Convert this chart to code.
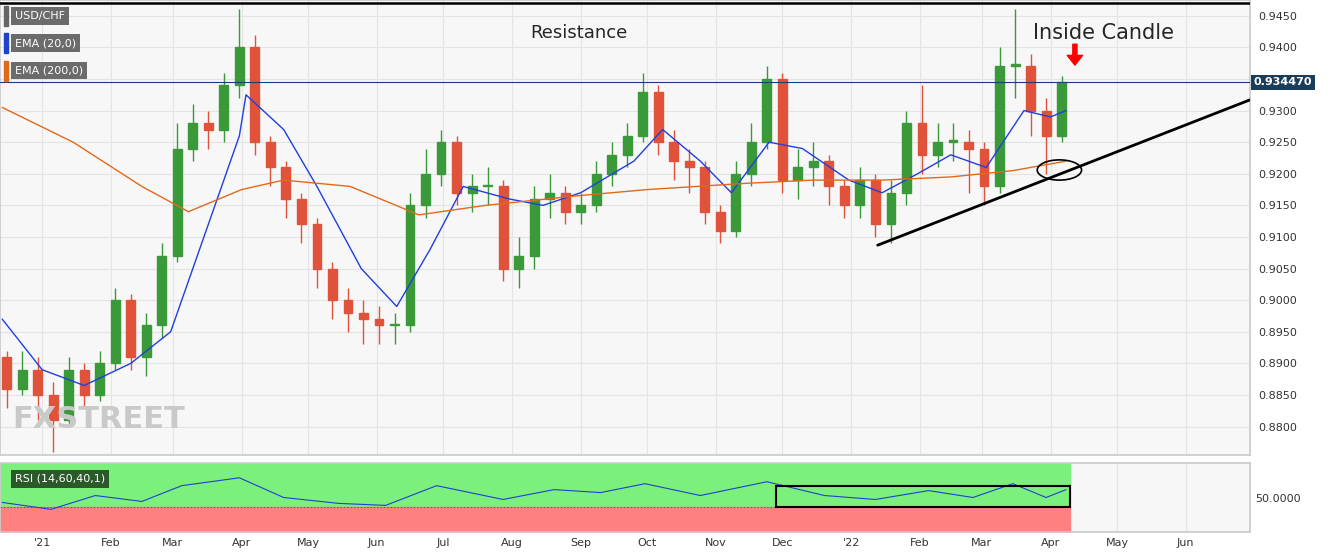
import numpy as np, pandas as pd, seaborn as sns, matplotlib
matplotlib.use("Agg")
import matplotlib.pyplot as plt
import matplotlib.dates as mdates
from matplotlib.patches import Ellipse, Rectangle

sns.set_theme(style="white")
plt.rcParams['font.family'] = ['DejaVu Sans']

# weekly candles (week start dates)
week_start = pd.date_range("2020-12-14", periods=69, freq="7D")
first_open = 0.891
closes = [0.886,0.889,0.885,0.881,0.889,0.885,0.890,0.900,0.891,0.896,0.907,0.924,0.928,0.927,0.934,0.940,
          0.925,0.921,0.916,0.912,0.905,0.900,0.898,0.897,0.896,0.896,0.915,0.920,0.925,0.917,0.918,0.918,
          0.905,0.907,0.916,0.917,0.914,0.915,0.920,0.923,0.926,0.933,0.925,0.922,0.921,0.914,0.911,0.920,
          0.925,0.935,0.919,0.921,0.922,0.918,0.915,0.919,0.912,0.917,0.928,0.923,0.925,0.925,0.924,0.918,
          0.937,0.937,0.930,0.926,0.9345]
highs = [0.892,0.892,0.891,0.887,0.891,0.890,0.892,0.902,0.901,0.898,0.909,0.928,0.931,0.930,0.936,0.946,
         0.942,0.926,0.922,0.917,0.913,0.906,0.902,0.900,0.899,0.898,0.917,0.924,0.927,0.926,0.920,0.921,
         0.919,0.910,0.918,0.920,0.918,0.917,0.922,0.925,0.928,0.936,0.934,0.927,0.924,0.922,0.915,0.922,
         0.928,0.937,0.936,0.924,0.925,0.923,0.919,0.921,0.920,0.919,0.930,0.934,0.928,0.928,0.927,0.925,
         0.940,0.946,0.939,0.932,0.9355]
lows = [0.883,0.885,0.881,0.876,0.880,0.883,0.884,0.889,0.889,0.888,0.894,0.906,0.922,0.924,0.925,0.932,
        0.923,0.918,0.913,0.909,0.902,0.897,0.895,0.893,0.893,0.893,0.895,0.913,0.918,0.915,0.914,0.915,
        0.903,0.902,0.905,0.913,0.912,0.912,0.914,0.918,0.921,0.925,0.923,0.919,0.917,0.912,0.909,0.910,
        0.918,0.924,0.917,0.916,0.918,0.915,0.913,0.913,0.910,0.909,0.915,0.920,0.921,0.922,0.917,0.915,
        0.917,0.932,0.926,0.920,0.925]

ema20_dates = pd.to_datetime(["2020-12-14","2021-01-01","2021-01-20","2021-02-10","2021-02-28","2021-03-15",
    "2021-03-31","2021-04-03","2021-04-20","2021-05-05","2021-05-25","2021-06-10","2021-06-25","2021-07-10",
    "2021-07-31","2021-08-15","2021-09-01","2021-09-25","2021-10-08","2021-10-25","2021-11-08","2021-11-25",
    "2021-12-10","2021-12-31","2022-01-15","2022-01-31","2022-02-15","2022-03-03","2022-03-20","2022-04-01","2022-04-08"])
ema20_vals = [0.897,0.889,0.8865,0.890,0.895,0.910,0.926,0.9325,0.927,0.918,0.905,0.899,0.908,0.918,
              0.916,0.915,0.917,0.922,0.927,0.922,0.917,0.925,0.924,0.919,0.917,0.920,0.923,0.921,0.930,0.929,0.930]
ema200_dates = pd.to_datetime(["2020-12-14","2021-01-15","2021-02-15","2021-03-08","2021-04-01","2021-04-20",
    "2021-05-20","2021-06-20","2021-07-20","2021-08-30","2021-10-01","2021-11-15","2021-12-15","2022-01-15",
    "2022-02-15","2022-03-15","2022-04-08"])
ema200_vals = [0.9305,0.925,0.918,0.914,0.9175,0.919,0.918,0.9135,0.915,0.9165,0.9175,0.9185,0.919,0.919,0.9195,0.9205,0.922]
rsi_dates = pd.to_datetime(["2020-12-14","2021-01-05","2021-01-25","2021-02-15","2021-03-05","2021-03-31",
    "2021-04-20","2021-05-15","2021-06-05","2021-06-28","2021-07-28","2021-08-20","2021-09-10","2021-09-30",
    "2021-10-25","2021-11-24","2021-12-20","2022-01-12","2022-02-05","2022-02-25","2022-03-15","2022-03-30","2022-04-08"])
rsi_vals = [45,38,52,46,62,70,50,44,42,62,48,58,55,64,52,66,52,48,57,50,64,50,58]
last_price = 0.93447
resistance = 0.9471
trend_dates = pd.to_datetime(["2022-01-13","2022-06-30"])
trend_vals = [0.9087,0.9317]

fig = plt.figure(figsize=(13.31, 5.58), dpi=100)
fig.patch.set_facecolor("white")
ax = fig.add_axes([0.0, 1-455/558, 1250/1331, 455/558])
ax2 = fig.add_axes([0.0, 1-532/558, 1250/1331, 69/558], sharex=ax)
for a in (ax, ax2):
    a.set_facecolor("#f7f7f7")
    for s in a.spines.values():
        s.set_color("#cccccc")

xmin, xmax = pd.Timestamp("2020-12-13"), pd.Timestamp("2022-06-30")
months = pd.date_range("2021-01-01", "2022-06-01", freq="MS")
for m in months:
    ax.axvline(m, color="#e4e4e4", lw=0.8, zorder=0)
    ax2.axvline(m, color="#e4e4e4", lw=0.8, zorder=0)
for p in np.arange(0.880, 0.9451, 0.005):
    ax.axhline(p, color="#e4e4e4", lw=0.8, zorder=0)

opens = [first_open] + closes[:-1]
centers = week_start + pd.Timedelta(days=2)
w = 4.0
for c, o, cl, h, l in zip(centers, opens, closes, highs, lows):
    col = "#3a9a3a" if cl >= o else "#e0533a"
    cn = mdates.date2num(c)
    ax.vlines(cn, l, h, color=col, lw=1, zorder=2)
    ax.add_patch(Rectangle((cn - w/2, min(o, cl)), w, max(abs(cl-o), 0.0003), color=col, zorder=3))

sns.lineplot(x=ema20_dates, y=ema20_vals, ax=ax, color="#1f3fe0", lw=1, zorder=4)
sns.lineplot(x=ema200_dates, y=ema200_vals, ax=ax, color="#e06a1a", lw=1, zorder=4)
ax.axhline(last_price, color="#1a3d7a", lw=0.8, zorder=4)
ax.axhline(resistance, color="black", lw=1.8, zorder=5)
sns.lineplot(x=trend_dates, y=trend_vals, ax=ax, color="black", lw=2, zorder=5)
ax.add_patch(Ellipse((mdates.date2num(pd.Timestamp("2022-04-05")), 0.9206), 20, 0.0032,
                     fill=False, ec="black", lw=1.2, zorder=6))
ax.text(pd.Timestamp("2021-08-31"), 0.9423, "Resistance", fontsize=13, ha="center", va="center")
ax.text(pd.Timestamp("2022-04-25"), 0.9423, "Inside Candle", fontsize=15, ha="center", va="center")
ax.annotate("", xy=(pd.Timestamp("2022-04-12"), 0.9372), xytext=(pd.Timestamp("2022-04-12"), 0.9405),
            arrowprops=dict(color="red", width=3, headwidth=11, headlength=7))

ax.set_xlim(xmin, xmax)
ax.set_ylim(0.8755, 0.9475)
ax.yaxis.tick_right()
yt = [v for v in np.arange(0.880, 0.9451, 0.005) if abs(v - 0.935) > 1e-6]
ax.set_yticks(yt)
ax.set_yticklabels([f"{v:.4f}" for v in yt], fontsize=8, color="#333")
ax.tick_params(axis="x", labelbottom=False, length=0)
ax.tick_params(axis="y", length=0, pad=6)
ax.set_xlabel(""); ax.set_ylabel("")
ax.text(1.003, (last_price-0.8755)/(0.9475-0.8755), f"{last_price:.6f}", transform=ax.transAxes,
        fontsize=8, color="white", weight="bold", va="center", ha="left",
        bbox=dict(boxstyle="square,pad=0.25", fc="#1a3d5a", ec="none"))
ax.text(0.01, 0.06, "FXSTREET", transform=ax.transAxes, fontsize=22, color="#c9c9c9", weight="bold")
for i, (lab, col) in enumerate([("USD/CHF", "#666"), ("EMA (20,0)", "#2040d0"), ("EMA (200,0)", "#e06a1a")]):
    y = 0.965 - i*0.06
    ax.text(0.012, y, lab, transform=ax.transAxes, fontsize=8, color="white", va="center",
            bbox=dict(boxstyle="square,pad=0.35", fc="#6b6b6b", ec="none"))
    ax.add_patch(Rectangle((0.003, y-0.022), 0.003, 0.044, transform=ax.transAxes, color=col, zorder=7))

rsi_end = pd.Timestamp("2022-04-10")
ax2.fill_between([xmin, rsi_end], 40, 85, color="#7cf07c", zorder=1)
ax2.fill_between([xmin, rsi_end], 15, 40, color="#ff8080", zorder=1)
ax2.axhline(40, xmax=(rsi_end-xmin)/(xmax-xmin), color="#555", lw=0.6, ls=(0, (2, 2)), zorder=2)
sns.lineplot(x=rsi_dates, y=rsi_vals, ax=ax2, color="#2040d0", lw=0.8, zorder=3)
ax2.add_patch(Rectangle((mdates.date2num(pd.Timestamp("2021-11-28")), 40),
                        (pd.Timestamp("2022-04-10")-pd.Timestamp("2021-11-28")).days, 22,
                        fill=False, ec="black", lw=1.5, zorder=4))
ax2.text(0.012, 0.77, "RSI (14,60,40,1)", transform=ax2.transAxes, fontsize=8, color="white", va="center",
         bbox=dict(boxstyle="square,pad=0.35", fc="#2a5a2a", ec="none"))
ax2.set_ylim(15, 85)
ax2.yaxis.tick_right()
ax2.set_yticks([50]); ax2.set_yticklabels(["50.0000"], fontsize=8, color="#333")
ax2.set_xticks(months)
ax2.set_xticklabels(["'21" if m.month == 1 and m.year == 2021 else ("'22" if m.month == 1 else m.strftime("%b"))
                     for m in months], fontsize=8, color="#333")
ax2.tick_params(length=0, pad=4)
ax2.set_xlabel(""); ax2.set_ylabel("")
ax2.set_xlim(xmin, xmax)

fig.savefig("out.png", dpi=100)
